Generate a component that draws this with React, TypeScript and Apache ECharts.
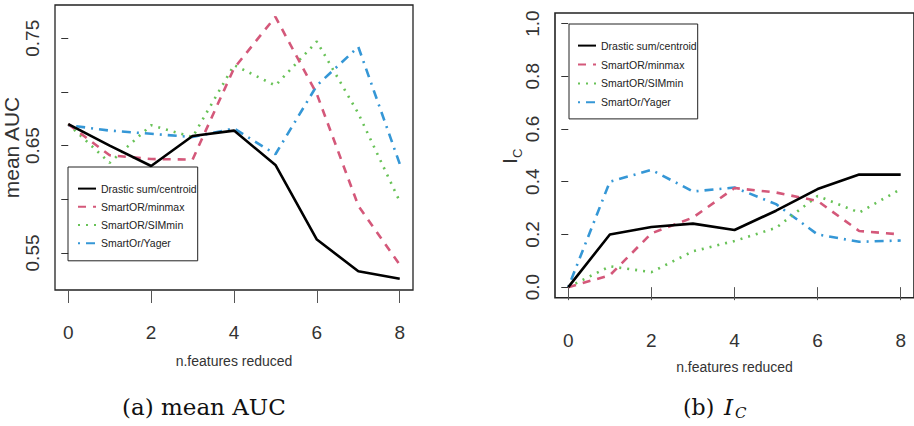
import React, { useEffect, useRef } from "react";
import * as echarts from "echarts";

const xs = [0, 1, 2, 3, 4, 5, 6, 7, 8];
const seriesNames = ["Drastic sum/centroid", "SmartOR/minmax", "SmartOR/SIMmin", "SmartOr/Yager"];

const aucDrastic = [0.670, 0.650, 0.631, 0.659, 0.664, 0.632, 0.5625, 0.533, 0.526];
const aucMinmax = [0.670, 0.641, 0.6375, 0.637, 0.722, 0.770, 0.698, 0.594, 0.539];
const aucSimmin = [0.670, 0.634, 0.669, 0.658, 0.725, 0.706, 0.747, 0.680, 0.598];
const aucYager = [0.669, 0.664, 0.661, 0.658, 0.666, 0.642, 0.706, 0.742, 0.633];

const icDrastic = [0.0, 0.20, 0.228, 0.241, 0.217, 0.29, 0.372, 0.427, 0.427];
const icMinmax = [0.0, 0.045, 0.204, 0.264, 0.376, 0.359, 0.327, 0.213, 0.20];
const icSimmin = [0.0, 0.079, 0.057, 0.136, 0.175, 0.225, 0.346, 0.283, 0.372];
const icYager = [0.0, 0.40, 0.445, 0.363, 0.378, 0.315, 0.20, 0.172, 0.177];

const xTicks = [0, 2, 4, 6, 8];
const aucTickValues = [0.55, 0.6, 0.65, 0.7, 0.75];
const aucLabelValues = [0.55, 0.65, 0.75];
const icTickValues = [0, 0.2, 0.4, 0.6, 0.8, 1.0];

const colors = ["#000000", "#d4587a", "#68c257", "#3597d6"];
const dashes: any[] = ["solid", [8, 7], [2, 6], [2, 6, 9, 6]];

const SANS = "'Liberation Sans', Arial, sans-serif";
const SERIF = "'DejaVu Serif', 'Liberation Serif', serif";

export default function App() {
  const ref = useRef<HTMLDivElement>(null);
  useEffect(() => {
    if (!ref.current) return;
    const chart = echarts.init(ref.current, null, { renderer: "svg" });
    const mk = (vals: number[], i: number, k: number) => ({
      name: seriesNames[i],
      type: "line",
      xAxisIndex: k,
      yAxisIndex: k,
      data: xs.map((x, j) => [x, vals[j]]),
      symbol: "none",
      lineStyle: { color: colors[i], width: 2.6, type: dashes[i] },
      itemStyle: { color: colors[i] },
      z: 10 - i,
    });
    const xAxisCommon = (k: number, nameGap: number) => ({
      type: "value",
      gridIndex: k,
      min: -0.32,
      max: 8.32,
      axisLine: { show: false },
      splitLine: { show: false },
      axisTick: { show: true, inside: false, length: 13, customValues: xTicks, lineStyle: { color: "#555", width: 1 } },
      axisLabel: { customValues: xTicks, margin: 33, fontSize: 19, fontFamily: SANS, color: "#333" },
      name: "n.features reduced",
      nameLocation: "middle",
      nameGap,
      nameTextStyle: { fontSize: 14, fontFamily: SANS, color: "#333" },
    });
    const legendCommon = (left: number, top: number, pad: number[], gap: number) => ({
      show: true,
      left,
      top,
      orient: "vertical",
      data: seriesNames,
      itemWidth: 18,
      itemHeight: 14,
      itemGap: gap,
      padding: pad,
      borderColor: "#222",
      borderWidth: 1,
      itemStyle: { opacity: 0 },
      textStyle: { fontSize: 10.5, fontFamily: SANS, color: "#222" },
      selectedMode: false,
    });
    chart.setOption({
      animation: false,
      backgroundColor: "#ffffff",
      grid: [
        { left: 55, top: 5, width: 358, height: 285, show: true, borderColor: "#222", borderWidth: 1.3, backgroundColor: "transparent" },
        { left: 555, top: 13, right: -5, height: 284.7, show: true, borderColor: "#222", borderWidth: 1.6, backgroundColor: "transparent" },
      ],
      xAxis: [xAxisCommon(0, 64), xAxisCommon(1, 62)],
      yAxis: [
        {
          type: "value",
          gridIndex: 0,
          min: 0.5155,
          max: 0.781,
          axisLine: { show: false },
          splitLine: { show: false },
          axisTick: { show: true, length: 7, customValues: aucTickValues, lineStyle: { color: "#333" } },
          axisLabel: {
            customValues: aucLabelValues,
            rotate: 90,
            margin: 13,
            fontSize: 19,
            fontFamily: SANS,
            color: "#333",
            formatter: (v: number) => v.toFixed(2),
          },
          name: "mean AUC",
          nameLocation: "middle",
          nameRotate: 90,
          nameGap: 27,
          nameTextStyle: { fontSize: 21, fontFamily: SANS, color: "#333" },
        },
        {
          type: "value",
          gridIndex: 1,
          min: -0.04,
          max: 1.04,
          axisLine: { show: false },
          splitLine: { show: false },
          axisTick: { show: true, length: 7, customValues: icTickValues, lineStyle: { color: "#333" } },
          axisLabel: {
            customValues: icTickValues,
            rotate: 90,
            margin: 13,
            fontSize: 19,
            fontFamily: SANS,
            color: "#333",
            formatter: (v: number) => v.toFixed(1),
          },
        },
      ],
      legend: [
        legendCommon(68, 167, [16, 1, 12, 9], 7),
        legendCommon(569, 24, [16, 1, 11, 8], 7.7),
      ],
      series: [
        mk(aucDrastic, 0, 0),
        mk(aucMinmax, 1, 0),
        mk(aucSimmin, 2, 0),
        mk(aucYager, 3, 0),
        mk(icDrastic, 0, 1),
        mk(icMinmax, 1, 1),
        mk(icSimmin, 2, 1),
        mk(icYager, 3, 1),
      ],
      graphic: [
        {
          type: "group",
          x: 520,
          y: 164,
          rotation: Math.PI / 2,
          children: [
            { type: "text", x: 0, y: 0, style: { text: "I", fontSize: 21, fontFamily: SANS, fill: "#333", align: "left", verticalAlign: "bottom" } },
            { type: "text", x: 6, y: 4, style: { text: "C", fontSize: 13, fontFamily: SANS, fill: "#333", align: "left", verticalAlign: "bottom" } },
          ],
        },
        { type: "text", x: 122, y: 407, style: { text: "(a) mean AUC", fontSize: 23, fontFamily: SERIF, fill: "#111", align: "left", verticalAlign: "middle" } },
        { type: "text", x: 683, y: 407, style: { text: "(b)", fontSize: 22, fontFamily: SERIF, fill: "#111", align: "left", verticalAlign: "middle" } },
        { type: "text", x: 724, y: 407, style: { text: "I", fontSize: 23, fontStyle: "italic", fontFamily: SERIF, fill: "#111", align: "left", verticalAlign: "middle" } },
        { type: "text", x: 735, y: 413, style: { text: "C", fontSize: 15, fontStyle: "italic", fontFamily: SERIF, fill: "#111", align: "left", verticalAlign: "middle" } },
      ],
    });
    return () => chart.dispose();
  }, []);
  return (
    <div style={{ position: "absolute", left: 0, top: 0, width: 914, height: 426, overflow: "hidden", background: "#fff" }}>
      <div ref={ref} style={{ width: 914, height: 426 }} />
    </div>
  );
}
